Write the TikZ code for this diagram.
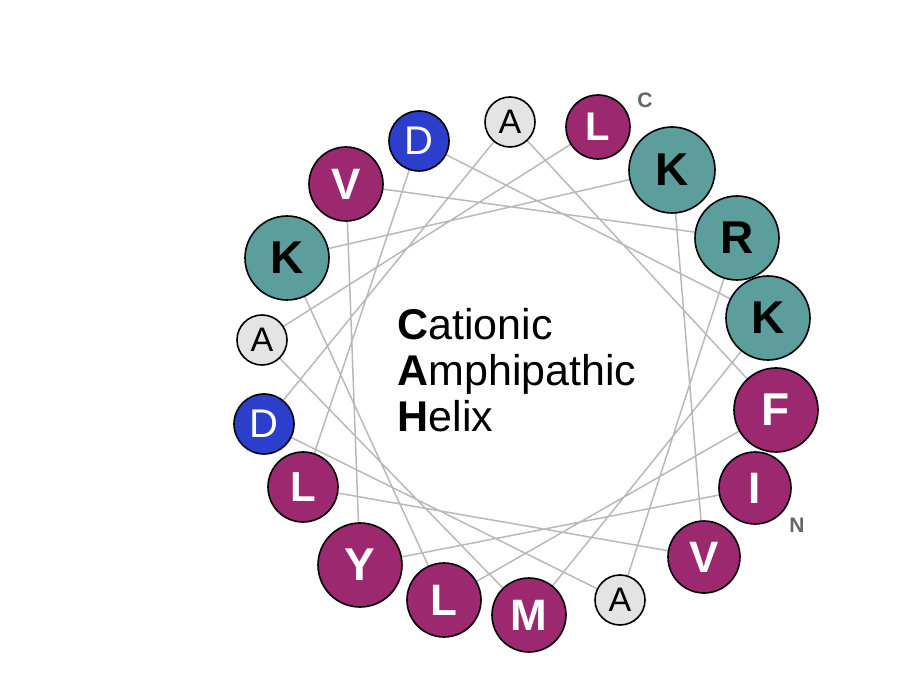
\documentclass[tikz,border=0pt]{standalone}
\usepackage{fontspec}
\setmainfont{Liberation Sans}
\definecolor{mag}{HTML}{9C2870}
\definecolor{teal}{HTML}{5C9E9C}
\definecolor{blu}{HTML}{2B3FCC}
\definecolor{lgr}{HTML}{E4E4E4}
\begin{document}
\begin{tikzpicture}[x=1pt,y=-1pt]
\useasboundingbox (0,0) rectangle (921,692);
\tikzset{res/.style={circle,draw=black,line width=1.6pt,inner sep=0pt,text centered},
 wire/.style={draw=gray!55,line width=1.5pt}}
\foreach \n/\x/\y in {p0/598/127,p1/672/170,p2/737/238,p3/768/318,p4/776/410,p5/755/488,p6/704/557,p7/620/600,p8/529/615,p9/444/600,p10/360/565,p11/303/487,p12/264/424,p13/262/340,p14/287/258,p15/346/184,p16/419/141,p17/510/122}
  \coordinate (\n) at (\x,\y);
\draw[wire] (p5)--(p10)--(p15)--(p2)--(p7)--(p12)--(p17)--(p4)--(p9)--(p14)--(p1)--(p6)--(p11)--(p16)--(p3)--(p8)--(p13)--(p0);
\foreach \n/\r/\c/\t/\l/\b/\s in {p0/32/mag/white/L/1/40,p1/43/teal/black/K/1/46,p2/42/teal/black/R/1/46,p3/42/teal/black/K/1/46,p4/42/mag/white/F/1/46,p5/36/mag/white/I/1/44,p6/36/mag/white/V/1/44,p7/25/lgr/black/A/0/34,p8/37/mag/white/M/1/44,p9/37/mag/white/L/1/44,p10/42/mag/white/Y/1/46,p11/35/mag/white/L/1/42,p12/30/blu/white/D/0/40,p13/25/lgr/black/A/0/34,p14/42/teal/black/K/1/46,p15/37/mag/white/V/1/44,p16/30/blu/white/D/0/40,p17/25/lgr/black/A/0/34}{
  \ifnum\b=1 \def\ff{\bfseries}\else\def\ff{}\fi
  \node[res,fill=\c,text=\t,minimum size=2*\r pt,font=\fontsize{\s pt}{\s pt}\selectfont\ff] (n\n) at (\n) {\l};
}
\node[font=\bfseries\fontsize{21pt}{22pt}\selectfont,text=gray!80!black] (c) at (645,100) {C};
\node[font=\bfseries\fontsize{21pt}{22pt}\selectfont,text=gray!80!black] (nn) at (797,525) {N};
\node[align=left,anchor=west,font=\fontsize{43pt}{46pt}\selectfont] (t) at (394,370) {\textbf{C}ationic\\\textbf{A}mphipathic\\\textbf{H}elix};
\end{tikzpicture}
\end{document}
